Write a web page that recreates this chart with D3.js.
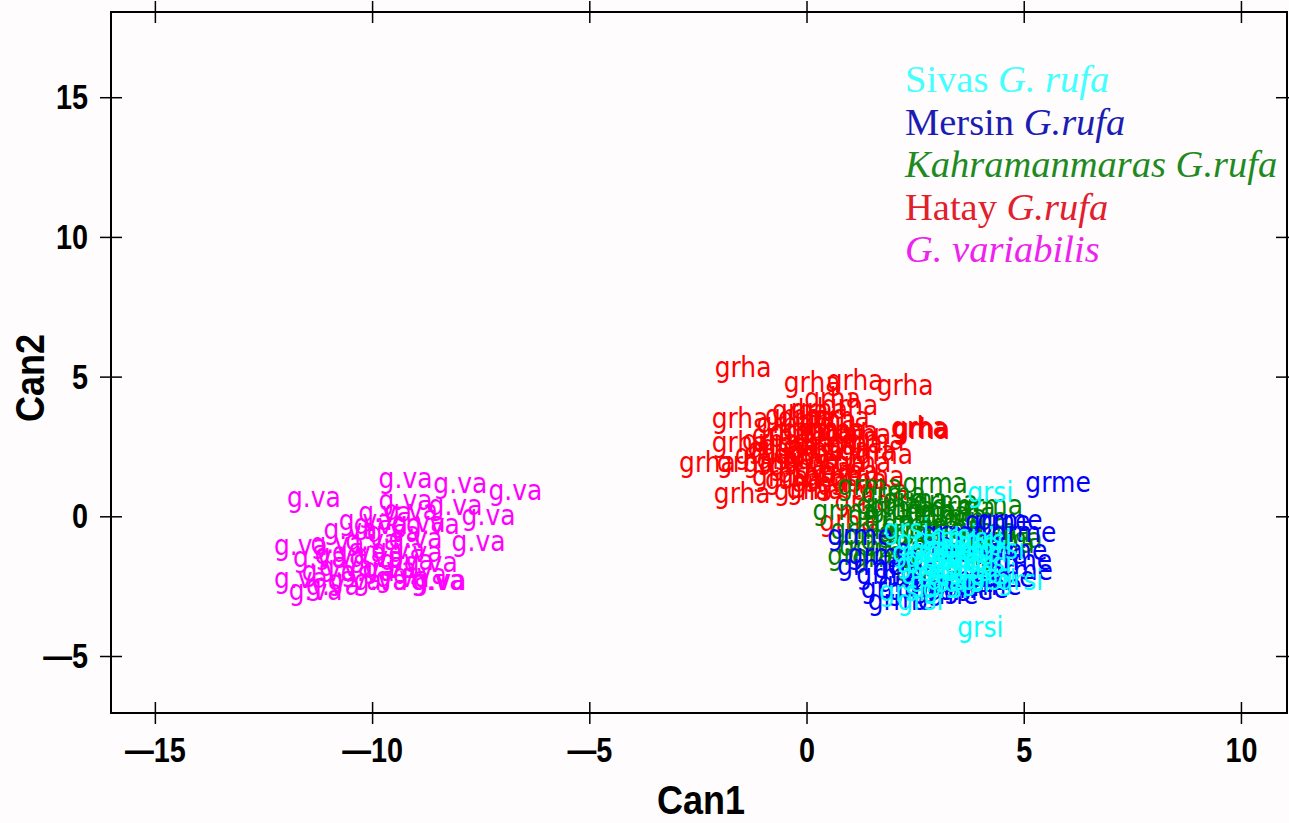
<!DOCTYPE html>
<html><head><meta charset="utf-8">
<script src="https://cdn.jsdelivr.net/npm/d3@7"></script>
<style>body{margin:0;background:#fefcfc}svg{display:block}</style>
</head><body>
<script>
// ---- data ----
const xTicks = [-15, -10, -5, 0, 5, 10];
const yTicks = [-5, 0, 5, 10, 15];
const groupNames = ["g.va", "grha", "grma", "grme", "grsi"];
const groupColors = ["#ff00ff", "#ff0000", "#008000", "#0000ff", "#00ffff"];

const vaX = [-11.34,-9.23,-7.97,-6.70,-9.23,-8.08,-7.32,-8.93,-10.15,-7.55,-8.65,-8.49,-8.45,-11.64,-11.64,-11.3,-10.9,-11.2,-10.8,-10.5,-9.8,-9.5,-9.0,-10.3,-9.9,-9.4,-10.6,-10.1,-9.6,-9.2,-10.4,-9.8,-9.3,-11.0,-8.9,-9.1,-8.6,-9.7,-10.7,-10.0,-9.0];
const vaY = [0.65,1.33,1.15,0.90,0.54,0.36,0.0,-0.25,-0.18,-0.93,-1.68,-2.33,-2.30,-1.08,-2.26,-2.69,-2.5,-1.5,-1.0,-0.5,-0.3,-0.6,-0.8,-1.3,-1.5,-1.2,-1.8,-2.0,-1.9,-1.6,-2.3,-2.3,-2.2,-2.0,-2.1,0.2,-0.3,0.1,-1.4,-0.9,-1.3];

const haX = [-1.46,0.13,1.12,2.27,1.0,0.6,-0.14,-1.53,2.62,2.65,2.60,-1.53,-2.28,-1.41,-1.48,-0.83,-1.0,-0.5,-0.3,0.0,0.3,0.5,0.8,-0.6,-0.2,0.1,0.4,0.7,1.0,1.3,1.6,-0.7,-0.4,0.0,0.2,0.5,0.8,1.1,1.4,1.8,-0.8,-0.5,-0.2,0.1,0.4,0.7,1.0,1.3,-0.6,-0.3,0.0,0.3,0.6,0.9,1.2,0.2,-0.1,1.6,0.5,-0.1,0.95,1.3,1.7];
const haY = [5.30,4.77,4.84,4.66,3.94,4.2,3.76,3.48,3.12,3.10,3.15,2.62,1.90,1.90,0.79,2.69,2.2,3.3,3.6,3.5,3.8,3.4,3.5,2.9,3.0,3.1,3.0,3.1,3.0,2.9,2.7,2.4,2.5,2.6,2.3,2.5,2.4,2.6,2.3,2.2,1.9,2.0,1.8,2.0,1.7,1.9,1.6,1.9,1.4,1.3,1.5,1.2,1.4,1.1,1.3,0.95,0.9,1.4,2.9,2.2,-0.2,0.5,0.9];

const maX = [2.96,1.46,0.89,1.23,4.68,4.23,2.0,2.5,3.2,3.6,2.2,2.7,3.0,3.4,3.9,1.7,2.1,2.5,1.3,1.6,2.0,1.5,2.4,2.9,3.3,4.1,4.4,1.9,2.6,3.1,3.6,2.8,4.5,1.8];
const maY = [1.15,1.08,0.18,-1.43,-0.82,0.36,0.8,0.6,0.5,0.3,0.3,0.2,0.1,0.0,-0.1,0.0,-0.2,-0.3,-0.5,-0.7,-0.9,-1.1,-0.6,-0.5,-0.4,-0.5,-0.6,0.4,-1.0,-1.3,-1.6,-2.0,-1.0,-1.5];

const meX = [5.79,1.23,1.46,4.68,4.79,4.92,3.54,2.62,2.16,4.4,5.0,4.9,4.5,4.2,3.9,3.2,2.4,1.9,1.7,2.0,3.0,3.4,2.8,3.8,4.3,2.3,3.6];
const meY = [1.18,-0.72,-1.79,-0.18,-1.25,-1.97,-2.69,-2.69,-3.05,-0.2,-0.6,-1.6,-2.2,-2.5,-2.6,-2.8,-2.4,-2.1,-1.4,-2.6,-2.5,-0.6,-1.2,-1.0,-1.4,-1.9,-2.2];

const siX = [4.23,4.0,2.62,4.92,2.3,2.2,2.6,3.0,3.4,3.8,4.2,2.5,2.9,3.3,3.7,4.1,4.5,2.6,3.0,3.4,3.8,4.2,2.7,3.1,3.5,3.9,4.3,2.9,3.3,3.7,4.1,3.2,3.6,3.2,2.8,4.0];
const siY = [0.82,-4.01,-3.05,-2.33,-0.5,-2.7,-0.9,-0.8,-0.7,-0.8,-0.9,-1.3,-1.2,-1.1,-1.2,-1.3,-1.2,-1.7,-1.6,-1.5,-1.6,-1.7,-2.1,-2.0,-1.9,-2.0,-2.1,-2.4,-2.3,-2.4,-2.3,-2.6,-1.3,-1.8,-1.5,-1.0];

const legendLabels = [
  [["Sivas ", false], ["G. rufa", true]],
  [["Mersin ", false], ["G.rufa", true]],
  [["Kahramanmaras G.rufa", true]],
  [["Hatay ", false], ["G.rufa", true]],
  [["G. variabilis", true]]
];
const legendColors = ["#44ffff", "#1c1cb4", "#1f8a1f", "#e0202c", "#ee22ee"];

// ---- chart ----
const W = 1289, H = 823;
const m = {l: 111, t: 12, r: 2, b: 110};
const svg = d3.select("body").append("svg").attr("width", W).attr("height", H);
svg.append("rect").attr("width", W).attr("height", H).attr("fill", "#fefcfc");

const x = d3.scaleLinear().domain([-16.01, 11.06]).range([m.l, W - m.r]);
const y = d3.scaleLinear().domain([-7.04, 18.05]).range([H - m.b, m.t]);

const fmt = d => (d < 0 ? "\u2014" : "") + Math.abs(d);

// points
const groups = [
  {name: groupNames[0], col: groupColors[0], xs: vaX, ys: vaY},
  {name: groupNames[1], col: groupColors[1], xs: haX, ys: haY},
  {name: groupNames[2], col: groupColors[2], xs: maX, ys: maY},
  {name: groupNames[3], col: groupColors[3], xs: meX, ys: meY},
  {name: groupNames[4], col: groupColors[4], xs: siX, ys: siY}
];
const pts = svg.append("g");
groups.forEach(g => {
  pts.append("g").selectAll("text").data(g.xs.map((v, i) => [v, g.ys[i]])).join("text")
    .attr("text-anchor", "middle")
    .attr("transform", d => `translate(${x(d[0])},${y(d[1])}) scale(1,1.12)`)
    .attr("dy", "0.32em")
    .attr("fill", g.col)
    .style("font-family", "DejaVu Sans, sans-serif").style("font-size", "25px")
    .text(g.name);
});

// frame
svg.append("rect").attr("x", m.l).attr("y", m.t)
  .attr("width", W - m.r - m.l).attr("height", H - m.b - m.t)
  .attr("fill", "none").attr("stroke", "#000").attr("stroke-width", 2);

const tickFont = sel => sel.style("font-family", "Liberation Sans, Arial, sans-serif")
  .style("font-size", "36px").style("font-weight", "bold").attr("fill", "#000");

// bottom axis
const gb = svg.append("g").attr("transform", `translate(0,${H - m.b})`)
  .call(d3.axisBottom(x).tickValues(xTicks).tickFormat(fmt).tickSize(11).tickPadding(12));
gb.select(".domain").remove();
gb.selectAll(".tick line").attr("y1", -11).attr("stroke-width", 1.5);
gb.selectAll(".tick text").call(tickFont).each(function () {
  const t = d3.select(this); const yy = +t.attr("y");
  t.attr("y", null).attr("transform", `translate(0,${yy}) scale(0.8,1)`);
});
// top axis ticks
const gt = svg.append("g").attr("transform", `translate(0,${m.t})`)
  .call(d3.axisTop(x).tickValues(xTicks).tickFormat("").tickSize(11));
gt.select(".domain").remove();
gt.selectAll(".tick line").attr("y1", 11).attr("stroke-width", 1.5);
// left axis
const gl = svg.append("g").attr("transform", `translate(${m.l},0)`)
  .call(d3.axisLeft(y).tickValues(yTicks).tickFormat(fmt).tickSize(11).tickPadding(12));
gl.select(".domain").remove();
gl.selectAll(".tick line").attr("x1", 11).attr("stroke-width", 1.5);
gl.selectAll(".tick text").call(tickFont).each(function () {
  const t = d3.select(this); const xx = +t.attr("x");
  t.attr("x", null).attr("transform", `translate(${xx},0) scale(0.8,1)`);
});
// right axis ticks
const gr = svg.append("g").attr("transform", `translate(${W - m.r},0)`)
  .call(d3.axisRight(y).tickValues(yTicks).tickFormat("").tickSize(11));
gr.select(".domain").remove();
gr.selectAll(".tick line").attr("x1", -11).attr("stroke-width", 1.5);

// axis titles
svg.append("text").attr("transform", "translate(701,814) scale(0.9,1)").attr("text-anchor", "middle")
  .style("font-family", "Liberation Sans, Arial, sans-serif").style("font-size", "40px").style("font-weight", "bold").text("Can1");
svg.append("text").attr("transform", "translate(44,378) rotate(-90) scale(0.9,1)").attr("text-anchor", "middle")
  .style("font-family", "Liberation Sans, Arial, sans-serif").style("font-size", "40px").style("font-weight", "bold").text("Can2");

// legend
const lg = svg.append("g");
legendLabels.forEach((parts, i) => {
  const t = lg.append("text").attr("x", 905).attr("y", 92 + i * 42.5)
    .attr("fill", legendColors[i])
    .style("font-family", "Liberation Serif, Times New Roman, serif").style("font-size", "38.5px");
  parts.forEach(p => t.append("tspan").style("font-style", p[1] ? "italic" : "normal").text(p[0]));
});
</script>
</body></html>
